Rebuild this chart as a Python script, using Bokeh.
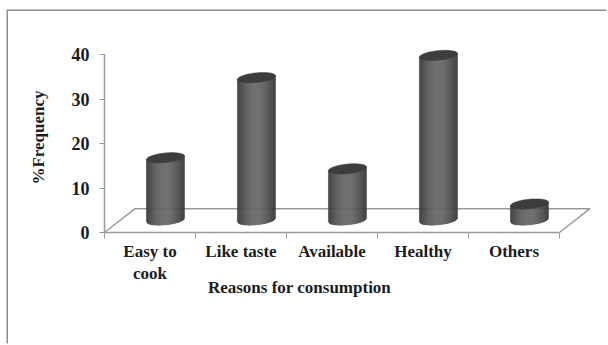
import numpy as np
from bokeh.embed import file_html
from bokeh.resources import INLINE
from bokeh.plotting import figure
from bokeh.models import Range1d, FixedTicker
from bokeh.core.properties import value

categories = ["Easy to\ncook", "Like taste", "Available", "Healthy", "Others"]
frequency = [14.0, 32.0, 11.5, 37.0, 3.6]
y_ticks = [0, 10, 20, 30, 40]
x_title = "Reasons for consumption"
y_title = "%Frequency"

FONT = "Liberation Serif"
INK = "#1c1c1c"
RULE = "#9a9a9a"

# plot scales: one category slot is 91 px, one percent is 4.45 px; the origin
# sits 96 px from the left of the figure and 221 px from its top
W, H = 600, 334
PX_X, PX_Y = 91.0, 4.45
x_range = Range1d(-96 / PX_X, (W - 96) / PX_X)
y_range = Range1d(-(H - 221) / PX_Y, 221 / PX_Y)

# the host element carries the panel edge along the top and left of the page
p = figure(width=W, height=H, output_backend="svg", toolbar_location=None,
           x_range=x_range, y_range=y_range,
           min_border=0,
           background_fill_color="white", border_fill_color="white", outline_line_color=None,
           margin=(11, 0, 0, 8),
           styles={"box-shadow": "-1.5px -1.5px 0 0 #8c8c8c"})
p.grid.visible = False

# value axis, pinned to the first category boundary
ya = p.yaxis[0]
ya.fixed_location = 0
ya.ticker = FixedTicker(ticks=y_ticks)
ya.bounds = (0, 40)
ya.axis_line_color = RULE
ya.axis_line_width = 1.5
ya.major_tick_line_color = RULE
ya.major_tick_in = 0
ya.major_tick_out = 5
ya.minor_tick_line_color = None
ya.major_label_text_font = FONT
ya.major_label_text_font_style = "bold"
ya.major_label_text_font_size = "18px"
ya.major_label_text_color = INK
ya.major_label_standoff = 10

# category axis: labels sit mid-slot, tick marks on the slot boundaries
xa = p.xaxis[0]
xa.fixed_location = 0
xa.ticker = FixedTicker(ticks=[i + 0.5 for i in range(5)], minor_ticks=list(range(6)))
xa.major_label_overrides = {i + 0.5: c for i, c in enumerate(categories)}
xa.bounds = (0, 5)
xa.axis_line_color = RULE
xa.axis_line_width = 1.5
xa.major_tick_line_color = None
xa.minor_tick_line_color = RULE
xa.minor_tick_in = 0
xa.minor_tick_out = 6
xa.major_label_text_font = FONT
xa.major_label_text_font_style = "bold"
xa.major_label_text_font_size = "17px"
xa.major_label_text_color = INK
xa.major_label_standoff = 3

# axis titles
p.text([(299 - 104) / PX_X], [(232 - 287) / PX_Y], text=[x_title],
       text_font=value(FONT), text_font_style="bold", text_font_size="17px",
       text_color=INK, text_align="center", text_baseline="middle")
p.text([(38 - 104) / PX_X], [(232 - 137) / PX_Y], text=[y_title], angle=[np.pi / 2],
       text_font=value(FONT), text_font_style="bold", text_font_size="17px",
       text_color=INK, text_align="center", text_baseline="middle")

# perspective floor
DEPTH_X, DEPTH_Y = 0.335, 5.35
p.line([0, DEPTH_X, 5 + DEPTH_X, 5], [0, DEPTH_Y, DEPTH_Y, 0], line_color=RULE, line_width=1.5)

# cylinders: thin shaded strips, then a darker tilted ellipse for the cap
BASE = 2.8
HALF_W = 0.209
ELL_B = 4.8 / PX_Y
TILT = 1.8 / PX_Y
N = 38


def lower_edge(u):
    return BASE - ELL_B * np.sqrt(max(1 - u * u, 0)) + TILT * u


for i, v in enumerate(frequency):
    cx = i + 0.67
    top = BASE + v
    edges = np.linspace(-1, 1, N + 1)
    xs, ys, colors = [], [], []
    for a, b in zip(edges[:-1], edges[1:]):
        xs.append([cx + a * HALF_W, cx + b * HALF_W, cx + b * HALF_W, cx + a * HALF_W])
        ys.append([lower_edge(a), lower_edge(b), top + TILT * b, top + TILT * a])
        m = (a + b) / 2
        g = int(60 + 46 * (1 - m * m) ** 1.5)
        colors.append(f"#{g:02x}{g:02x}{g:02x}")
    p.patches(xs, ys, fill_color=colors, line_color=colors, line_width=0.5)
    t = np.linspace(0, 2 * np.pi, 80)
    u = np.cos(t)
    p.patch(cx + HALF_W * u, top + ELL_B * np.sin(t) + TILT * u,
            fill_color="#3d3d3d", line_color="#3d3d3d", line_width=0.5)

open("out.html", "w").write(file_html(p, INLINE))
